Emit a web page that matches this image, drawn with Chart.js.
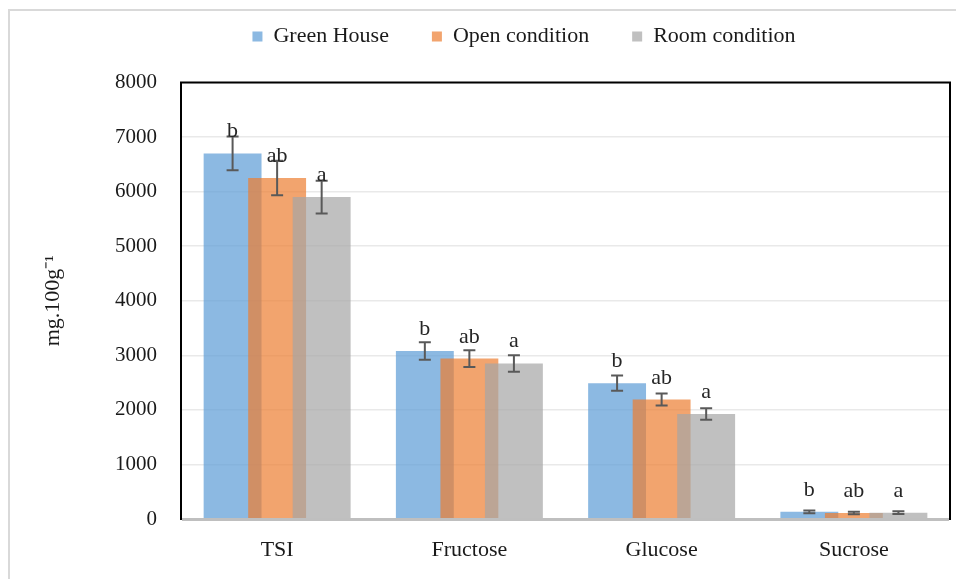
<!DOCTYPE html>
<html><head><meta charset="utf-8">
<script src="https://cdn.jsdelivr.net/npm/chart.js@4.4.0/dist/chart.umd.min.js"></script>
<style>html,body{margin:0;padding:0;background:#fff;overflow:hidden}#wrap{width:956px;height:579px;position:relative}</style>
</head><body><div id="wrap"><canvas id="c" width="956" height="579"></canvas></div>
<script>
const categories = ['TSI', 'Fructose', 'Glucose', 'Sucrose'];
const seriesNames = ['Green House', 'Open condition', 'Room condition'];
const greenHouse = [6700, 3080, 2490, 132];
const openCondition = [6250, 2940, 2190, 110];
const roomCondition = [5900, 2850, 1925, 115];
const greenHouseErr = [310, 160, 140, 25];
const openConditionErr = [315, 155, 110, 25];
const roomConditionErr = [300, 150, 105, 25];
const greenHouseLetters = ['b', 'b', 'b', 'b'];
const openConditionLetters = ['ab', 'ab', 'ab', 'ab'];
const roomConditionLetters = ['a', 'a', 'a', 'a'];
const yMin = 0, yMax = 8000, yStep = 1000;
const yTitle = 'mg.100g\u207B\u00B9';

const FONT = "'Liberation Serif', 'Times New Roman', serif";
const TEXT = '#1a1a1a';
const errs = [greenHouseErr, openConditionErr, roomConditionErr];
const letters = [greenHouseLetters, openConditionLetters, roomConditionLetters];

const overlay = {
  id: 'overlay',
  beforeDraw(chart) {
    const ctx = chart.ctx;
    ctx.save();
    ctx.fillStyle = '#fff';
    ctx.fillRect(0, 0, chart.width, chart.height);
    ctx.strokeStyle = '#d9d9d9';
    ctx.lineWidth = 2;
    ctx.beginPath();
    ctx.moveTo(9, chart.height);
    ctx.lineTo(9, 10);
    ctx.lineTo(chart.width, 10);
    ctx.stroke();
    ctx.restore();
  },
  afterLayout(chart) {
    const lg = chart.legend;
    if (lg) { lg.left += 44; lg.right += 44; lg.top -= 25; lg.bottom -= 25; }
  },
  beforeDatasetsDraw(chart) {
    const ctx = chart.ctx;
    const a = chart.chartArea;
    const metas = chart.getSortedVisibleDatasetMetas();
    ctx.save();
    ctx.beginPath();
    ctx.rect(a.left, a.top, a.right - a.left, a.bottom - a.top);
    ctx.clip();
    metas.forEach(m => m.controller.draw());
    ctx.restore();
    const ys = chart.scales.y;
    ctx.save();
    // error bars
    ctx.strokeStyle = '#595959';
    ctx.lineWidth = 2;
    metas.forEach(m => {
      const di = m.index;
      m.data.forEach((bar, i) => {
        const v = chart.data.datasets[di].data[i];
        const e = errs[di][i];
        const yt = ys.getPixelForValue(v + e);
        const yb = ys.getPixelForValue(v - e);
        ctx.beginPath();
        ctx.moveTo(bar.x, yt); ctx.lineTo(bar.x, yb);
        ctx.moveTo(bar.x - 6, yt); ctx.lineTo(bar.x + 6, yt);
        ctx.moveTo(bar.x - 6, yb); ctx.lineTo(bar.x + 6, yb);
        ctx.stroke();
      });
    });
    // letters
    ctx.fillStyle = '#262626';
    ctx.font = '22px ' + FONT;
    ctx.textAlign = 'center';
    ctx.textBaseline = 'alphabetic';
    metas.forEach(m => {
      const di = m.index;
      m.data.forEach((bar, i) => {
        ctx.fillText(letters[di][i], bar.x, bar.y - 16);
      });
    });
    // plot box
    ctx.strokeStyle = '#000';
    ctx.lineWidth = 2;
    ctx.strokeRect(a.left, a.top, a.right - a.left, a.bottom - a.top);
    ctx.strokeStyle = '#bfbfbf';
    ctx.lineWidth = 3;
    ctx.beginPath();
    ctx.moveTo(a.left + 1, a.bottom + 0.5);
    ctx.lineTo(a.right - 1, a.bottom + 0.5);
    ctx.stroke();
    ctx.restore();
    return false;
  }
};

new Chart(document.getElementById('c'), {
  type: 'bar',
  data: {
    labels: categories,
    datasets: [
      { label: seriesNames[0], data: greenHouse, backgroundColor: 'rgba(91,155,213,0.7)', borderWidth: 0 },
      { label: seriesNames[1], data: openCondition, backgroundColor: 'rgba(237,125,49,0.7)', borderWidth: 0 },
      { label: seriesNames[2], data: roomCondition, backgroundColor: 'rgba(165,165,165,0.7)', borderWidth: 0 }
    ]
  },
  options: {
    responsive: false,
    animation: false,
    categoryPercentage: 0.695,
    barPercentage: 1.3,
    layout: { padding: { left: 10, right: 6, top: 7.5, bottom: 16 } },
    plugins: {
      legend: {
        position: 'top',
        maxHeight: 82,
        labels: { boxWidth: 10, boxHeight: 10, padding: 43, color: TEXT, font: { family: FONT, size: 22 } }
      },
      tooltip: { enabled: false }
    },
    scales: {
      x: {
        afterFit(s) { s.height = 44; },
        grid: { display: false, drawTicks: false },
        border: { display: false },
        ticks: { color: TEXT, font: { family: FONT, size: 22 }, padding: 18 }
      },
      y: {
        min: yMin, max: yMax,
        afterFit(s) { s.width = 171; },
        grid: { color: '#e9e9e9', lineWidth: 1.5, drawTicks: false },
        border: { display: false },
        ticks: { stepSize: yStep, color: TEXT, font: { family: FONT, size: 21 }, padding: 24,
                 callback: v => String(v) },
        title: { display: true, text: yTitle, color: TEXT, font: { family: FONT, size: 22 }, padding: { top: 30, bottom: 0 } }
      }
    }
  },
  plugins: [overlay]
});
</script></body></html>
